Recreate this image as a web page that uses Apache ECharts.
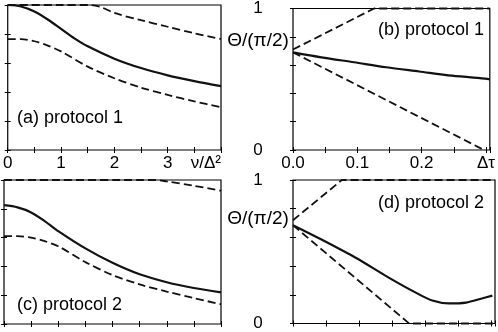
<!DOCTYPE html>
<html><head><meta charset="utf-8">
<script src="https://cdn.jsdelivr.net/npm/echarts@6/dist/echarts.min.js"></script>
<style>html,body{margin:0;padding:0;background:#fff}#c{width:498px;height:332px}</style>
</head><body><div id="c"></div>
<script>
// ---- tick labels ----
const nuTickValues = [0, 1, 2, 3, 4];
const nuTickLabels = ['0', '1', '2', '3', 'ν/Δ²'];
const tauTickValues = [0, 0.1, 0.2, 0.3];
const tauTickLabels = ['0.0', '0.1', '0.2', 'Δτ'];
const thetaTickValues = [0, 1];
const thetaTickLabels = ['0', '1'];
const panelTitles = ['(a) protocol 1', '(b) protocol 1', '(c) protocol 2', '(d) protocol 2'];
const yTitle = 'Θ/(π/2)';

// ---- panel (a): protocol 1 vs ν/Δ² ----
const aUpper = [[0,1],[1.0,1],[1.55,1],[1.75,0.985],[2.0,0.945],[2.5,0.895],[3.0,0.85],[3.5,0.805],[4.0,0.765]];
const aSolid = [[0,1],[0.25,0.99],[0.5,0.955],[0.75,0.9],[1.0,0.835],[1.25,0.77],[1.5,0.715],[2.0,0.63],[2.5,0.565],[3.0,0.515],[3.5,0.475],[4.0,0.44]];
const aLower = [[0,0.765],[0.25,0.765],[0.5,0.75],[0.75,0.72],[1.0,0.68],[1.5,0.575],[2.0,0.495],[2.5,0.43],[3.0,0.38],[3.5,0.335],[4.0,0.295]];

// ---- panel (b): protocol 1 vs Δτ ----
const bUpper = [[0,0.71],[0.126,1],[0.306,1]];
const bSolid = [[0,0.69],[0.044,0.655],[0.095,0.62],[0.145,0.585],[0.196,0.555],[0.247,0.525],[0.302,0.503],[0.306,0.5]];
const bLower = [[0,0.69],[0.297,0]];

// ---- panel (c): protocol 2 vs ν/Δ² ----
const cUpper = [[0,1],[2.5,1],[2.8,1],[3.0,0.99],[3.5,0.96],[4.0,0.925]];
const cSolid = [[0,0.825],[0.25,0.81],[0.5,0.775],[0.75,0.715],[1.0,0.645],[1.5,0.525],[2.0,0.425],[2.5,0.345],[3.0,0.29],[3.5,0.25],[4.0,0.22]];
const cLower = [[0,0.61],[0.25,0.61],[0.5,0.6],[0.75,0.575],[1.0,0.54],[1.5,0.43],[2.0,0.34],[2.5,0.275],[3.0,0.225],[3.5,0.18],[4.0,0.137]];

// ---- panel (d): protocol 2 vs Δτ ----
const dUpper = [[0,0.72],[0.074,1],[0.306,1]];
const dSolid = [[0,0.685],[0.044,0.583],[0.095,0.458],[0.145,0.32],[0.186,0.215],[0.211,0.16],[0.236,0.14],[0.262,0.146],[0.286,0.174],[0.302,0.194]];
const dLower = [[0,0.685],[0.176,0],[0.306,0]];

const FONT = 'Liberation Sans';
function labelFrom(vals, labs) {
  return function (v) {
    for (let i = 0; i < vals.length; i++) if (Math.abs(v - vals[i]) < 1e-6) return labs[i];
    return '';
  };
}
const grids = [
  {left: 4, top: 5, width: 217, height: 145},
  {left: 293, top: 5, width: 202, height: 145},
  {left: 4, top: 180, width: 217, height: 144},
  {left: 293, top: 180, width: 202, height: 144}
].map(g => Object.assign(g, {show: true, borderColor: '#000', borderWidth: 1.2, backgroundColor: 'transparent'}));

const tick = {show: true, inside: true, length: 3, lineStyle: {color: '#000', width: 1}};
const xDefs = [
  {max: 4, interval: 0.5, labels: true, f: labelFrom(nuTickValues, nuTickLabels)},
  {max: 0.306, interval: 0.05, labels: true, f: labelFrom(tauTickValues, tauTickLabels)},
  {max: 4, interval: 0.5, labels: false},
  {max: 0.306, interval: 0.05, labels: false}
];
const xAxis = [], yAxis = [];
xDefs.forEach((d, i) => {
  xAxis.push({type: 'value', gridIndex: i, min: 0, max: d.max, interval: d.interval, position: 'bottom',
    axisLine: {show: false}, splitLine: {show: false}, axisTick: tick,
    axisLabel: {show: d.labels, formatter: d.f, margin: 5, color: '#000', fontSize: 17, fontFamily: FONT,
      alignMaxLabel: i === 0 ? 'right' : 'center', showMaxLabel: true, showMinLabel: true}});
});
xDefs.forEach((d, i) => {
  xAxis.push({type: 'value', gridIndex: i, min: 0, max: d.max, interval: d.interval, position: 'top',
    axisLine: {show: false}, splitLine: {show: false}, axisTick: tick, axisLabel: {show: false}});
});
for (let i = 0; i < 4; i++) {
  const lab = (i === 1 || i === 3);
  yAxis.push({type: 'value', gridIndex: i, min: 0, max: 1, interval: 0.2, position: 'left',
    axisLine: {show: false}, splitLine: {show: false}, axisTick: tick,
    axisLabel: {show: lab, formatter: labelFrom(thetaTickValues, thetaTickLabels), margin: 35, align: 'center',
      color: '#000', fontSize: 17, fontFamily: FONT}});
}
for (let i = 0; i < 4; i++) {
  yAxis.push({type: 'value', gridIndex: i, min: 0, max: 1, interval: 0.2, position: 'right',
    axisLine: {show: false}, splitLine: {show: false}, axisTick: tick, axisLabel: {show: false}});
}

function ser(data, idx, dashed, smooth) {
  return {type: 'line', data: data, xAxisIndex: idx, yAxisIndex: idx, showSymbol: false, symbol: 'none',
    clip: false, smooth: smooth ? 0.3 : false,
    lineStyle: dashed ? {color: '#111', width: 1.8, type: [8, 4]} : {color: '#111', width: 2.2}};
}
const series = [
  ser(aUpper, 0, true, true), ser(aSolid, 0, false, true), ser(aLower, 0, true, true),
  ser(bUpper, 1, true, false), ser(bSolid, 1, false, true), ser(bLower, 1, true, false),
  ser(cUpper, 2, true, true), ser(cSolid, 2, false, true), ser(cLower, 2, true, true),
  ser(dUpper, 3, true, false), ser(dSolid, 3, false, true), ser(dLower, 3, true, false)
];

function txt(s, x, y, align, size) {
  return {type: 'text', x: x, y: y, z: 10, style: {text: s, fill: '#000', fontSize: size, fontFamily: FONT, align: align, verticalAlign: 'middle'}};
}
const graphic = [
  txt(panelTitles[0], 17, 118, 'left', 18),
  txt(panelTitles[1], 378, 30, 'left', 18),
  txt(panelTitles[2], 17, 305, 'left', 18),
  txt(panelTitles[3], 378, 203, 'left', 18),
  txt(yTitle, 258, 41, 'center', 19),
  txt(yTitle, 258, 219, 'center', 19)
];

const chart = echarts.init(document.getElementById('c'), null, {renderer: 'canvas'});
chart.setOption({animation: false, grid: grids, xAxis: xAxis, yAxis: yAxis, series: series, graphic: graphic});
</script>
</body></html>
